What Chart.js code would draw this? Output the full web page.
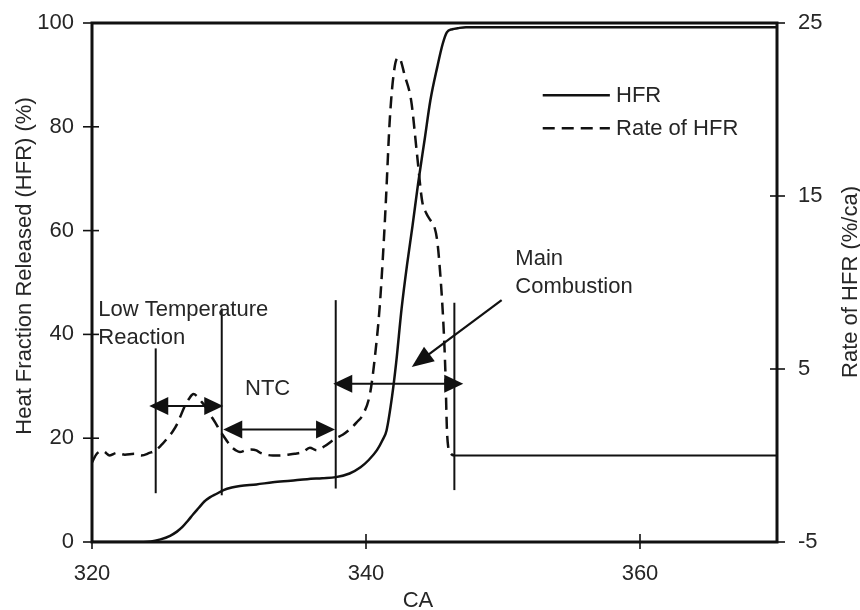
<!DOCTYPE html>
<html>
<head>
<meta charset="utf-8">
<script src="https://cdn.jsdelivr.net/npm/chart.js@4.4.1/dist/chart.umd.min.js"></script>
<style>
  html, body { margin: 0; padding: 0; background: #ffffff; }
  #wrap { width: 860px; height: 610px; }
</style>
</head>
<body>
<div id="wrap"><canvas id="c" width="860" height="610"></canvas></div>
<script>
// ---------------- data ----------------
const crankAngleHFR = [320, 323, 324.3, 325, 325.7, 326.2, 326.6, 327.0, 327.4, 327.8, 328.2, 328.6, 329.1, 329.6, 330.2, 330.8, 332, 333.2, 334.5, 335.7, 336.8, 337.8, 338.8, 339.6, 340.2, 340.8, 341.2, 341.5, 341.9, 342.2, 342.6, 343.0, 343.4, 343.8, 344.3, 344.7, 345.2, 345.6, 345.9, 346.3, 346.7, 347.3, 350, 360, 370];
const hfrPercent    = [0, 0, 0.1, 0.5, 1.2, 2.0, 2.9, 4.1, 5.4, 6.6, 7.8, 8.6, 9.3, 10.0, 10.5, 10.8, 11.1, 11.5, 11.8, 12.1, 12.3, 12.5, 13.2, 14.4, 15.8, 17.7, 19.6, 21.5, 28.0, 34.5, 45.0, 53.5, 61.0, 69.0, 77.9, 85.1, 91.5, 96.0, 98.2, 98.8, 99.0, 99.2, 99.2, 99.2, 99.2];

const crankAngleRate = [320, 320.35, 320.8, 321.3, 321.8, 322.4, 323.1, 323.6, 324.2, 324.65, 325.0, 325.5, 325.9, 326.2, 326.8, 327.1, 327.4, 327.7, 327.9, 328.3, 328.6, 329.0, 329.4, 329.8, 330.1, 330.5, 330.8, 331.2, 331.6, 332.0, 332.3, 332.7, 333.2, 333.7, 334.3, 334.8, 335.4, 335.9, 336.4, 337.0, 337.8, 338.3, 338.8, 339.3, 339.8, 340.3, 340.65, 341.0, 341.3, 341.45, 341.75, 342.1, 342.4, 342.85, 343.3, 343.7, 344.1, 344.4, 344.7, 345.0, 345.2, 345.4, 345.65, 345.8, 345.9, 346.0, 346.2, 346.45, 350, 360, 370];
const rateOfHFR      = [-0.4, 0.1, 0.25, 0.0, 0.15, 0.05, 0.1, 0.0, 0.15, 0.3, 0.55, 1.0, 1.4, 1.8, 2.9, 3.3, 3.55, 3.4, 3.2, 2.8, 2.4, 1.9, 1.35, 0.9, 0.55, 0.3, 0.2, 0.3, 0.35, 0.3, 0.15, 0.05, 0.0, 0.0, 0.05, 0.1, 0.2, 0.45, 0.3, 0.55, 1.0, 1.2, 1.5, 1.9, 2.4, 3.6, 5.7, 8.6, 12.4, 14.7, 19.6, 22.5, 23.0, 21.9, 20.5, 17.6, 14.7, 14.0, 13.6, 13.2, 12.4, 10.7, 7.6, 4.7, 1.65, 0.5, 0.1, 0.0, 0.0, 0.0, 0.0];

const xTickValues     = [320, 340, 360];
const leftTickValues  = [0, 20, 40, 60, 80, 100];
const rightTickValues = [-5, 5, 15, 25];

const seriesNames = ['HFR', 'Rate of HFR'];
const xTitle = 'CA';
const leftTitle = 'Heat Fraction Released (HFR) (%)';
const rightTitle = 'Rate of HFR (%/ca)';

// ---------------- annotation layout (data units: CA, HFR %) ----------------
const phaseMarkers = [
  { ca: 324.65, from: 9.4,  to: 37.3 },
  { ca: 329.47, from: 9.0,  to: 45.0 },
  { ca: 337.79, from: 10.3, to: 46.6 },
  { ca: 346.45, from: 10.0, to: 46.1 }
];
const spanArrows = [
  { from: 324.18, to: 329.58, at: 26.2 },
  { from: 329.58, to: 337.74, at: 21.7 },
  { from: 337.61, to: 347.10, at: 30.5 }
];
const pointerArrow = { fromCA: 349.9, fromV: 46.6, toCA: 343.34, toV: 33.7 };
const noteTexts = [
  { text: 'Low Temperature', ca: 320.46, v: 43.5 },
  { text: 'Reaction',        ca: 320.46, v: 38.1 },
  { text: 'NTC',             ca: 331.17, v: 28.3 },
  { text: 'Main',            ca: 350.9,  v: 53.3 },
  { text: 'Combustion',      ca: 350.9,  v: 47.9 }
];
const legendSpot = { lineFrom: 352.9, lineTo: 357.8, textAt: 358.25, rows: [86.1, 79.7] };

const INK = '#111111';
const TXT = '#262626';
const FONT = '"Liberation Sans", Arial, Helvetica, sans-serif';
const FS = 22;
const DASH = [12, 7];

const drawExtras = {
  id: 'drawExtras',
  afterDatasetsDraw(chart) {
    const { ctx, chartArea: a, scales } = chart;
    const X = v => scales.x.getPixelForValue(v);
    const Y = v => scales.y.getPixelForValue(v);
    const R = v => scales.y1.getPixelForValue(v);
    const seg = (x1, y1, x2, y2) => { ctx.beginPath(); ctx.moveTo(x1, y1); ctx.lineTo(x2, y2); ctx.stroke(); };
    const head = (tx, ty, ang, len, half) => {
      ctx.beginPath();
      ctx.moveTo(tx, ty);
      ctx.lineTo(tx - len * Math.cos(ang) + half * Math.sin(ang), ty - len * Math.sin(ang) - half * Math.cos(ang));
      ctx.lineTo(tx - len * Math.cos(ang) - half * Math.sin(ang), ty - len * Math.sin(ang) + half * Math.cos(ang));
      ctx.closePath();
      ctx.fill();
    };
    ctx.save();
    ctx.strokeStyle = INK; ctx.fillStyle = INK;
    ctx.lineCap = 'butt';

    // frame
    ctx.lineWidth = 3;
    ctx.strokeRect(a.left, a.top, a.right - a.left, a.bottom - a.top);

    // crossing tick marks
    ctx.lineWidth = 1.6;
    scales.x.ticks.forEach(t => { const p = X(t.value); seg(p, a.bottom - 8, p, a.bottom + 7); });
    scales.y.ticks.forEach(t => { const p = Y(t.value); seg(a.left - 9, p, a.left + 7, p); });
    scales.y1.ticks.forEach(t => { const p = R(t.value); seg(a.right - 7, p, a.right + 8, p); });

    // phase marker lines
    ctx.lineWidth = 2;
    phaseMarkers.forEach(m => seg(X(m.ca), Y(m.from), X(m.ca), Y(m.to)));

    // double-headed span arrows
    spanArrows.forEach(s => {
      const x1 = X(s.from), x2 = X(s.to), yy = Y(s.at);
      ctx.lineWidth = 2;
      seg(x1 + 10, yy, x2 - 10, yy);
      head(x1, yy, Math.PI, 19, 9);
      head(x2, yy, 0, 19, 9);
    });

    // pointer arrow
    {
      const x1 = X(pointerArrow.fromCA), y1 = Y(pointerArrow.fromV);
      const x2 = X(pointerArrow.toCA), y2 = Y(pointerArrow.toV);
      const ang = Math.atan2(y2 - y1, x2 - x1);
      ctx.lineWidth = 2.2;
      seg(x1, y1, x2 - 12 * Math.cos(ang), y2 - 12 * Math.sin(ang));
      head(x2, y2, ang, 22, 9);
    }

    // notes
    ctx.font = FS + 'px ' + FONT;
    ctx.fillStyle = TXT;
    ctx.textAlign = 'left';
    ctx.textBaseline = 'alphabetic';
    noteTexts.forEach(n => ctx.fillText(n.text, X(n.ca), Y(n.v)));

    // legend
    ctx.strokeStyle = INK;
    ctx.lineWidth = 2.5;
    legendSpot.rows.forEach((rv, i) => {
      const yy = Y(rv);
      ctx.setLineDash(i === 0 ? [] : DASH);
      seg(X(legendSpot.lineFrom), yy, X(legendSpot.lineTo), yy);
      ctx.setLineDash([]);
      ctx.textBaseline = 'middle';
      ctx.fillText(seriesNames[i], X(legendSpot.textAt), yy + 1);
    });

    // axis titles
    ctx.textAlign = 'center';
    ctx.textBaseline = 'middle';
    ctx.fillText(xTitle, 418, 601);
    ctx.save();
    ctx.translate(25, 266);
    ctx.rotate(-Math.PI / 2);
    ctx.fillText(leftTitle, 0, 0);
    ctx.restore();
    ctx.save();
    ctx.translate(851, 282);
    ctx.rotate(-Math.PI / 2);
    ctx.fillText(rightTitle, 0, 0);
    ctx.restore();

    ctx.restore();
  }
};

const tickFont = { family: FONT, size: FS };
const setTicks = vals => scale => { scale.ticks = vals.map(v => ({ value: v })); };
const fitVertical = w => s => { s.width = w; s.paddingTop = 0; s.paddingBottom = 0; };

new Chart(document.getElementById('c'), {
  type: 'line',
  data: {
    datasets: [
      {
        label: seriesNames[0],
        data: crankAngleHFR.map((c, i) => ({ x: c, y: hfrPercent[i] })),
        yAxisID: 'y',
        borderColor: INK,
        borderWidth: 2.5,
        pointRadius: 0,
        cubicInterpolationMode: 'monotone',
        fill: false
      },
      {
        label: seriesNames[1],
        data: crankAngleRate.map((c, i) => ({ x: c, y: rateOfHFR[i] })),
        yAxisID: 'y1',
        borderColor: INK,
        borderWidth: 2.5,
        borderDash: DASH,
        pointRadius: 0,
        cubicInterpolationMode: 'monotone',
        fill: false,
        segment: {
          borderDash: c => (c.p0.parsed.x >= 346.4 ? [] : DASH),
          borderWidth: c => (c.p0.parsed.x >= 346.4 ? 2 : 2.5)
        }
      }
    ]
  },
  options: {
    responsive: false,
    animation: false,
    devicePixelRatio: 1,
    layout: { padding: { top: 23, left: 0, right: 0, bottom: 0 } },
    plugins: { legend: { display: false }, tooltip: { enabled: false } },
    scales: {
      x: {
        type: 'linear', min: 320, max: 370,
        afterBuildTicks: setTicks(xTickValues),
        afterFit: s => { s.height = 68; s.paddingLeft = 0; s.paddingRight = 0; },
        grid: { display: false, drawTicks: false },
        border: { display: false },
        ticks: { font: tickFont, color: TXT, padding: 19, maxRotation: 0 }
      },
      y: {
        type: 'linear', position: 'left', min: 0, max: 100,
        afterBuildTicks: setTicks(leftTickValues),
        afterFit: fitVertical(92),
        grid: { display: false, drawTicks: false },
        border: { display: false },
        ticks: { font: tickFont, color: TXT, padding: 18 }
      },
      y1: {
        type: 'linear', position: 'right', min: -5, max: 25,
        afterBuildTicks: setTicks(rightTickValues),
        afterFit: fitVertical(83),
        grid: { display: false, drawTicks: false },
        border: { display: false },
        ticks: { font: tickFont, color: TXT, padding: 21 }
      }
    }
  },
  plugins: [drawExtras]
});
</script>
</body>
</html>
